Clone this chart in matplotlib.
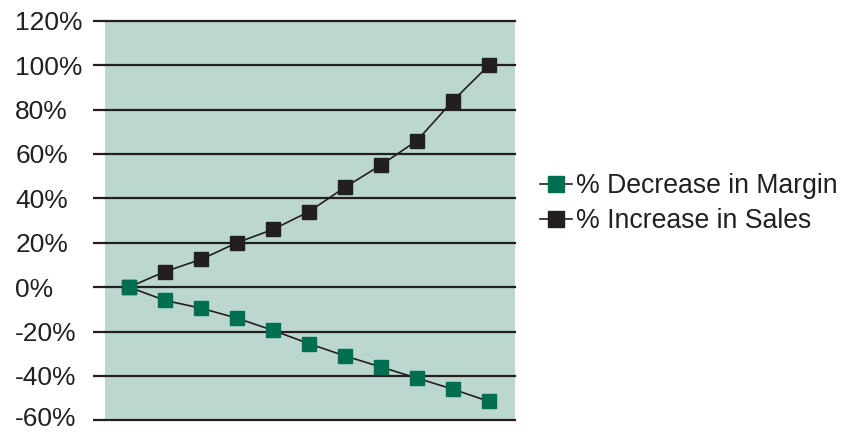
import matplotlib.pyplot as plt
import matplotlib.transforms as mtransforms
import numpy as np

plt.rcParams['font.family'] = ['Liberation Sans', 'DejaVu Sans']

# steps along the x axis (no labels shown)
steps = np.arange(11)
margin_decrease = [0, -6, -9.5, -14, -19.5, -25.5, -31, -36, -41, -46, -51.5]
sales_increase = [0, 7, 12.5, 20, 26, 34, 45, 55, 66, 84, 100]
y_ticks = [-60, -40, -20, 0, 20, 40, 60, 80, 100, 120]

ink = '#231f20'
green = '#006f51'
bg = '#bcd7cf'

fig = plt.figure(figsize=(8.46, 4.33), dpi=100)
ax = fig.add_axes([0.1241, 0.0293, 0.4846, 0.9229])
ax.set_facecolor(bg)

ax.plot(steps, sales_increase, color=ink, lw=1.2, marker='s', ms=10,
        mfc=ink, mec=ink, label='% Increase in Sales', zorder=3)
ax.plot(steps, margin_decrease, color=ink, lw=1.2, marker='s', ms=10,
        mfc=green, mec=green, label='% Decrease in Margin', zorder=4)

ax.set_xlim(-0.67, 10.72)
ax.set_ylim(-60, 120)
ax.set_yticks(y_ticks)
ax.set_yticklabels([f'{v}%' for v in y_ticks])
ax.set_xticks([])

for s in ax.spines.values():
    s.set_visible(False)

ax.yaxis.grid(True, color=ink, lw=1.6)
for gl in ax.get_ygridlines():
    gl.set_clip_on(False)
ax.set_axisbelow(True)

ax.tick_params(axis='y', length=8.6, width=1.6, color=ink, labelsize=19,
               labelcolor=ink, pad=56)
for lbl in ax.get_yticklabels():
    lbl.set_horizontalalignment('left')

# lift the bottom label a touch so it stays inside the figure
lowest = ax.get_yticklabels()[0]
lowest.set_transform(lowest.get_transform() +
                     mtransforms.ScaledTranslation(0, 2.5 / 72, fig.dpi_scale_trans))

handles, labels = ax.get_legend_handles_labels()
fig.legend(handles[::-1], labels[::-1], loc='center left',
           bbox_to_anchor=(0.638, 0.530), frameon=False, fontsize=19.2,
           handlelength=1.2, handletextpad=0.15, labelspacing=0.35,
           markerscale=1.15, borderpad=0, borderaxespad=0, labelcolor=ink)

fig.savefig('out.png', dpi=100)
